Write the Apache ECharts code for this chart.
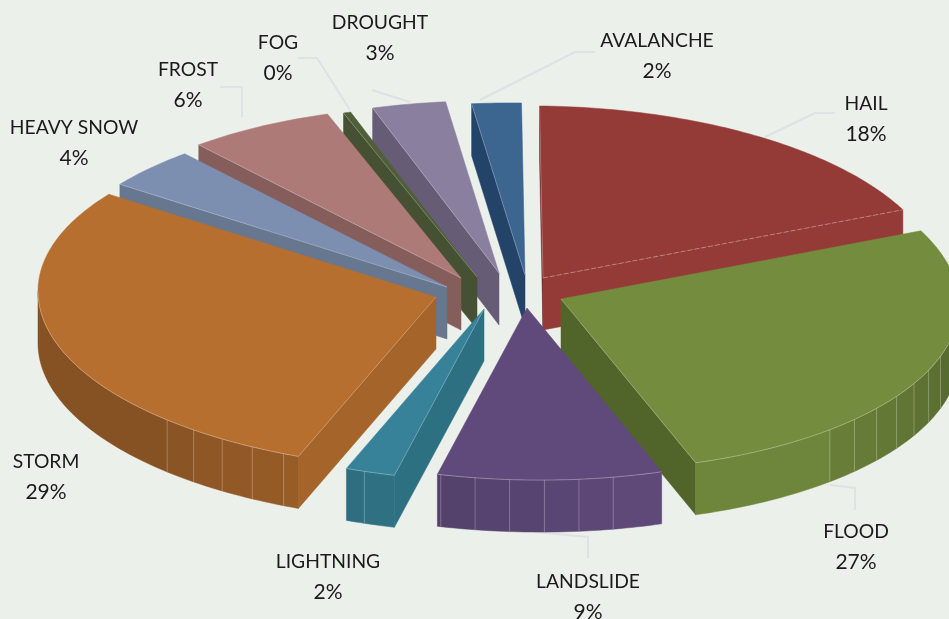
<!DOCTYPE html>
<html><head><meta charset="utf-8">
<style>html,body{margin:0;padding:0;background:#EBF0EB}#c{width:949px;height:619px}</style>
<script src="https://cdn.jsdelivr.net/npm/echarts@6/dist/echarts.min.js"></script>
</head><body><div id="c"></div>
<script>
const categories=['HAIL','FLOOD','LANDSLIDE','LIGHTNING','STORM','HEAVY SNOW','FROST','FOG','DROUGHT','AVALANCHE'];
const values=[18.1,26.5,9.1,2.0,29.0,3.9,6.0,0.3,3.0,2.0];
const topColors=['#943B38','#738C3E','#604A7B','#378298','#B66F2F','#7C8FB0','#AD7A78','#4F6038','#8B7FA0','#3C6590'];
const startWalls=['#6E2A28','#5A6E30','#4F3C66','#2D7082','#A5652A','#66778F','#855E5C','#465033','#665C75','#244368'];
const endWalls=['#943B38','#51642A','#4F3C66','#2D7082','#A5652A','#66778F','#855E5C','#465033','#665C75','#244368'];
const explodeX=[17,35,1,-42,-90,-79,-65,-49,-27,-1];
const explodeY=[-14,7,16,17,5,-5,-14,-15,-19,-17];
const paintRank=[0,1,6,7,5,4,3,2,1,0];
const labelX=[866,856,588,328,46,74,188,278,380,657];
const labelY=[119,547,597,577,477,143,85,58,38,56];
const leaders=[
 [[765,137],[815,113],[835,113]],
 [[830,485],[855,488],[855,510]],
 [[535,532],[588,537],[588,558]],
 null,null,null,
 [[242,117],[242,87],[220,87]],
 [[350,110],[317,58],[298,58]],
 [[410,102],[372,90]],
 [[480,100],[575,52],[595,52]]
];
const CX=526,CY=292,RX=398,RY=172,H=52,ROT=-0.5,FACET=5,FACET_OFF=2.5,SKEW=0.0145;
const FONT='Lato';
const total=values.reduce((a,b)=>a+b,0);
function shade(hex,f){const n=parseInt(hex.slice(1),16);const c=[n>>16,(n>>8)&255,n&255].map(v=>Math.round(v*f));return `rgb(${c[0]},${c[1]},${c[2]})`;}
function wallFactor(t){return Math.max(0.74,1-Math.abs(t-160)*0.004);}
const EDGE='rgba(255,255,255,0.3)';
function inBand(t){return (t>105&&t<141)||(t>165&&t<226);}
function renderItem(params,api){
  const i=params.dataIndex;
  let a0=ROT;for(let k=0;k<i;k++)a0+=api.value(0,k)/total*360;
  const a1=a0+api.value(0)/total*360;
  const ax=CX+explodeX[i],ay=CY+explodeY[i];
  const P=(t,d)=>{const r=t*Math.PI/180,dx=RX*Math.sin(r);return [ax+dx,ay-RY*Math.cos(r)+SKEW*dx+(d||0)];};
  const Apex=(d)=>[ax,ay+(d||0)];
  const z=paintRank[i]*10;
  const kids=[];
  const poly=(pts,fill,z2)=>kids.push({type:'polygon',shape:{points:pts},style:{fill,stroke:fill,lineWidth:0.5},z2,silent:true});
  const line=(pts,col,w,z2,dash)=>kids.push({type:'polyline',shape:{points:pts},style:{fill:'none',stroke:col||EDGE,lineWidth:w||0.8,lineDash:dash||null},z2,silent:true});
  if(Math.cos((a0-90)*Math.PI/180)<0.02){
    poly([Apex(),P(a0),P(a0,H),Apex(H)],startWalls[i],z+100);
    line([Apex(),P(a0)],null,null,z+104);
  }
  if(Math.cos((a1+90)*Math.PI/180)<0){
    poly([Apex(),P(a1),P(a1,H),Apex(H)],endWalls[i],z+100);
    line([Apex(),P(a1)],i===0?'rgba(255,255,255,0.42)':null,null,z+104,i===0?[5,2]:null);
  }
  const from=Math.max(a0,90),to=Math.min(a1,270);
  if(to>from){
    const breaks=[from];
    for(let t=FACET_OFF+FACET*Math.ceil((from-FACET_OFF)/FACET);t<to;t+=FACET){ if(inBand(t)) breaks.push(t); }
    breaks.push(to);
    for(let b=0;b<breaks.length-1;b++){
      const s=breaks[b],e=breaks[b+1],pts=[];
      const n=Math.max(4,Math.ceil(e-s));
      for(let k=0;k<=n;k++)pts.push(P(s+(e-s)*k/n));
      for(let k=n;k>=0;k--)pts.push(P(s+(e-s)*k/n,H));
      poly(pts,shade(topColors[i],wallFactor((s+e)/2)),z+101);
      if(b<breaks.length-2)line([P(e),P(e,H)],null,null,z+103);
    }
    const arc=[];for(let k=0;k<=40;k++)arc.push(P(from+(to-from)*k/40));
    line(arc,'rgba(255,255,255,0.36)',null,z+104);
  }
  const top=[Apex()];const n=Math.max(6,Math.ceil(a1-a0));
  for(let k=0;k<=n;k++)top.push(P(a0+(a1-a0)*k/n));
  poly(top,topColors[i],z+102);
  if(leaders[i])line(leaders[i],'#DEE1E5',2,20);
  const pct=Math.round(api.value(0)/total*100)+'%';
  kids.push({type:'text',x:labelX[i],y:labelY[i],z2:1000,silent:true,style:{
    text:'{n|'+categories[i]+'}\n{p|'+pct+'}',align:'center',verticalAlign:'middle',fill:'#1a1a1a',
    rich:{n:{fontFamily:FONT,fontSize:19.3,lineHeight:31,fill:'#1a1a1a'},p:{fontFamily:FONT,fontSize:21,lineHeight:31,fill:'#1a1a1a'}}}});
  return {type:'group',children:kids};
}
const chart=echarts.init(document.getElementById('c'),null,{renderer:'canvas'});
chart.setOption({
  animation:false,
  backgroundColor:'#EBF0EB',
  series:[{type:'custom',coordinateSystem:'none',renderItem,clip:false,
    data:values.map((v,i)=>({name:categories[i],value:[v]}))}]
});
</script></body></html>
